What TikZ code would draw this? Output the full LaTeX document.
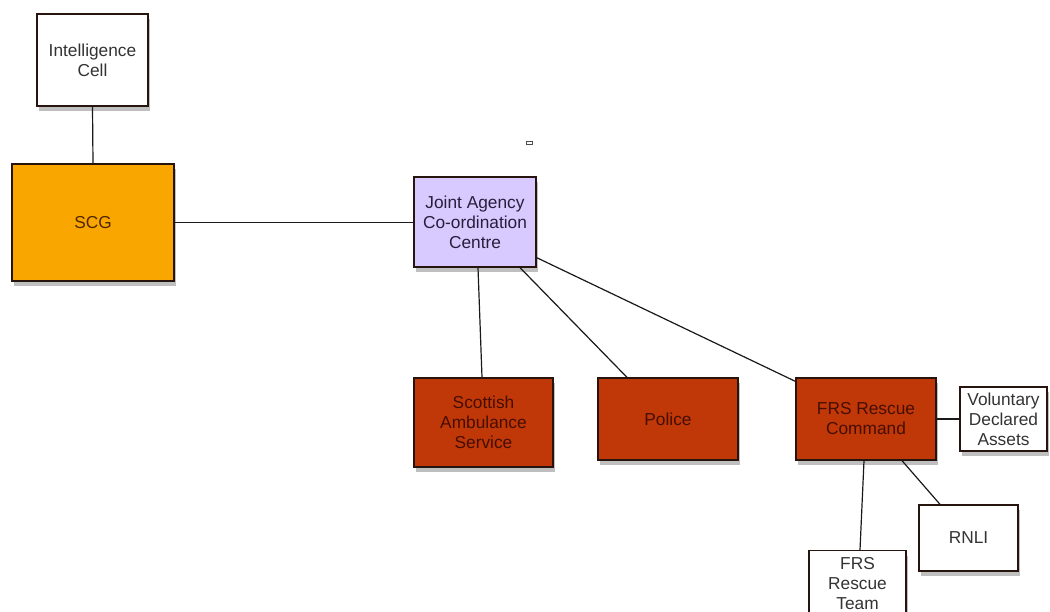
\documentclass[tikz,border=0pt]{standalone}
\usepackage{fontspec}
\setmainfont{Liberation Sans}
\usetikzlibrary{shadows}
\definecolor{scgorange}{RGB}{250,166,0}
\definecolor{jacclav}{RGB}{216,202,255}
\definecolor{agencyred}{RGB}{192,56,8}
\definecolor{redtext}{RGB}{70,14,0}
\definecolor{boxline}{RGB}{40,20,15}
\tikzset{
  x=1pt,y=-1pt,
  box/.style={draw=boxline,line width=1.3pt,inner sep=0pt,align=center,
    font=\fontsize{17.3}{20}\selectfont,text=black!80,
    drop shadow={shadow xshift=2pt,shadow yshift=-5pt,fill=black,opacity=0.25}},
  whitebox/.style={box,fill=white},
  redbox/.style={box,fill=agencyred,text=redtext},
  link/.style={draw=black!90,line width=1.2pt},
}
\begin{document}
\begin{tikzpicture}
\useasboundingbox (0,0) rectangle (1050,612);
\fill[white] (0,0) rectangle (1050,612);
\node[whitebox,minimum width=111pt,minimum height=92pt] (intel) at (92.5,60) {Intelligence\\Cell};
\node[box,fill=scgorange,text={rgb,255:red,80;green,40;blue,0},minimum width=162pt,minimum height=117pt] (scg) at (93,222.5) {SCG};
\node[box,fill=jacclav,text={rgb,255:red,40;green,30;blue,60},minimum width=122pt,minimum height=90pt] (jacc) at (475,222) {Joint Agency\\Co-ordination\\Centre};
\node[redbox,minimum width=139pt,minimum height=89pt] (sas) at (483.5,422.5) {Scottish\\Ambulance\\Service};
\node[redbox,minimum width=140pt,minimum height=82pt] (police) at (668,419) {Police};
\node[redbox,minimum width=140pt,minimum height=82pt] (frs) at (866,419) {FRS Rescue\\Command};
\node[whitebox,minimum width=87pt,minimum height=64pt] (vol) at (1003.5,419) {Voluntary\\Declared\\Assets};
\node[whitebox,minimum width=99pt,minimum height=66pt] (rnli) at (968.5,538) {RNLI};
\node[whitebox,minimum width=97pt,minimum height=66pt,anchor=north] (team) at (857.5,550) {FRS\\Rescue\\Team};
\node[draw=black!70,fill=white,line width=0.8pt,minimum width=6pt,minimum height=3.5pt,inner sep=0pt] (mark) at (529,143) {};
\draw[link] (intel.south) -- (scg.north);
\draw[link] (scg.east) -- (jacc.west |- scg.east);
\draw[link] ([xshift=3pt]jacc.south) -- ([xshift=-1.5pt]sas.north);
\draw[link] ([xshift=45pt]jacc.south) -- ([xshift=-41pt]police.north);
\draw[link] ([yshift=10pt]jacc.south east) -- ([yshift=-4pt]frs.north west);
\draw[link] (frs.east) -- (vol.west);
\draw[link] ([xshift=36pt]frs.south) -- ([xshift=-28.5pt]rnli.north);
\draw[link] ([xshift=-2pt]frs.south) -- ([xshift=2.5pt]team.north);
\end{tikzpicture}
\end{document}
